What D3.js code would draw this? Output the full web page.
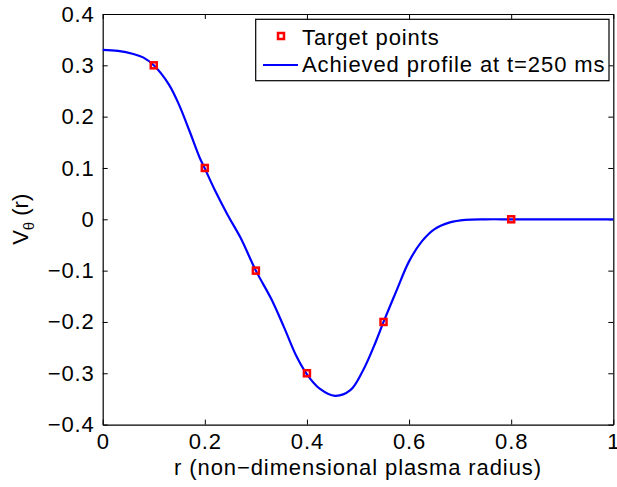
<!DOCTYPE html>
<html>
<meta charset="utf-8">
<head>
<script src="https://d3js.org/d3.v7.min.js"></script>
<style>
  body { margin: 0; background: #fff; }
  text { font-family: "Liberation Sans", Arial, sans-serif; fill: #000; }
</style>
</head>
<body>
<div id="chart"></div>
<script>
// target points
var targetR = [0.1, 0.2, 0.3, 0.4, 0.55, 0.8];
var targetV = [0.3, 0.1, -0.1, -0.3, -0.2, 0];

// achieved profile at t=250 ms
var profileR = [0, 0.03, 0.06, 0.08, 0.1, 0.13, 0.15, 0.17, 0.19, 0.2, 0.22, 0.245, 0.27, 0.3,
                0.33, 0.355, 0.38, 0.4, 0.425, 0.455, 0.485, 0.51, 0.535, 0.55, 0.575, 0.6,
                0.625, 0.65, 0.68, 0.71, 0.75, 0.8, 0.9, 1.0];
var profileV = [0.330, 0.328, 0.322, 0.315, 0.300, 0.262, 0.222, 0.172, 0.120, 0.099, 0.056, 0.008, -0.036, -0.100,
                -0.155, -0.210, -0.268, -0.302, -0.330, -0.344, -0.333, -0.294, -0.238, -0.200, -0.140, -0.082,
                -0.043, -0.019, -0.006, -0.001, 0, 0, 0, 0];

var xTicks = [0, 0.2, 0.4, 0.6, 0.8, 1];
var yTicks = [-0.4, -0.3, -0.2, -0.1, 0, 0.1, 0.2, 0.3, 0.4];
var legendLabels = ["Target points", "Achieved profile at t=250 ms"];

var W = 617, H = 487;
var mLeft = 102.7, mRight = 613.3, mTop = 14, mBottom = 424.6;
var fontSize = "22px", spacing = "0.9px";

var svg = d3.select("#chart").append("svg")
    .attr("width", W)
    .attr("height", H);

var x = d3.scaleLinear().domain([0, 1]).range([mLeft, mRight]);
var y = d3.scaleLinear().domain([-0.4, 0.4]).range([mBottom, mTop]);

function fmt(d) { return d == 0 ? "0" : (d == 1 ? "1" : d3.format(".1f")(d).replace("-", "\u2212")); }

// axes, with inward ticks on all four sides
var tickLen = 5;
svg.append("g").attr("transform", "translate(0," + mBottom + ")")
    .call(d3.axisBottom(x).tickValues(xTicks).tickSizeInner(-tickLen).tickSizeOuter(0).tickPadding(9).tickFormat(fmt));
svg.append("g").attr("transform", "translate(0," + mTop + ")")
    .call(d3.axisTop(x).tickValues(xTicks).tickSizeInner(-tickLen).tickSizeOuter(0).tickFormat(""));
svg.append("g").attr("transform", "translate(" + mLeft + ",0)")
    .call(d3.axisLeft(y).tickValues(yTicks).tickSizeInner(-tickLen).tickSizeOuter(0).tickPadding(8).tickFormat(fmt));
svg.append("g").attr("transform", "translate(" + mRight + ",0)")
    .call(d3.axisRight(y).tickValues(yTicks).tickSizeInner(-tickLen).tickSizeOuter(0).tickFormat(""));

svg.selectAll(".domain").attr("stroke", "#000").attr("stroke-width", 1.2);
svg.selectAll(".tick line").attr("stroke", "#000");
svg.selectAll(".tick text")
    .style("font-family", "Liberation Sans, Arial, sans-serif")
    .style("font-size", fontSize)
    .style("letter-spacing", spacing)
    .attr("fill", "#000");

// axis titles
svg.append("text")
    .attr("x", (mLeft + mRight) / 2)
    .attr("y", 475)
    .attr("text-anchor", "middle")
    .style("font-size", fontSize)
    .style("letter-spacing", spacing)
    .text("r (non\u2212dimensional plasma radius)");

var yl = svg.append("text")
    .attr("transform", "translate(28," + ((mTop + mBottom) / 2) + ") rotate(-90)")
    .attr("text-anchor", "middle")
    .style("font-size", fontSize);
yl.append("tspan").text("V");
yl.append("tspan").attr("dy", 6).style("font-size", "15px").text("\u03b8");
yl.append("tspan").attr("dy", -6).text(" (r)");

// curve
var line = d3.line()
    .x(function(d) { return x(d[0]); })
    .y(function(d) { return y(d[1]); })
    .curve(d3.curveCatmullRom.alpha(0.5));

svg.append("path")
    .datum(d3.zip(profileR, profileV))
    .attr("d", line)
    .attr("fill", "none")
    .attr("stroke", "#0000ff")
    .attr("stroke-width", 2.2);

// target markers
svg.append("g").selectAll("rect")
    .data(d3.zip(targetR, targetV))
    .enter().append("rect")
    .attr("x", function(d) { return x(d[0]) - 3; })
    .attr("y", function(d) { return y(d[1]) - 3; })
    .attr("width", 6)
    .attr("height", 6)
    .attr("fill", "none")
    .attr("stroke", "#ff0000")
    .attr("stroke-width", 2.5);

// legend
var lg = svg.append("g");
lg.append("rect")
    .attr("x", 255.7).attr("y", 19.3)
    .attr("width", 353.3).attr("height", 61.4)
    .attr("fill", "#fff").attr("stroke", "#000").attr("stroke-width", 1.2);
lg.append("rect")
    .attr("x", 278).attr("y", 33).attr("width", 6).attr("height", 6)
    .attr("fill", "none").attr("stroke", "#ff0000").attr("stroke-width", 2.5);
lg.append("line")
    .attr("x1", 263).attr("x2", 298).attr("y1", 65).attr("y2", 65)
    .attr("stroke", "#0000ff").attr("stroke-width", 2.2);
lg.selectAll("text.leg")
    .data(legendLabels)
    .enter().append("text")
    .attr("class", "leg")
    .attr("x", 302)
    .attr("y", function(d, i) { return 44.5 + i * 27; })
    .style("font-size", fontSize)
    .style("letter-spacing", spacing)
    .text(function(d) { return d; });
</script>
</body>
</html>
